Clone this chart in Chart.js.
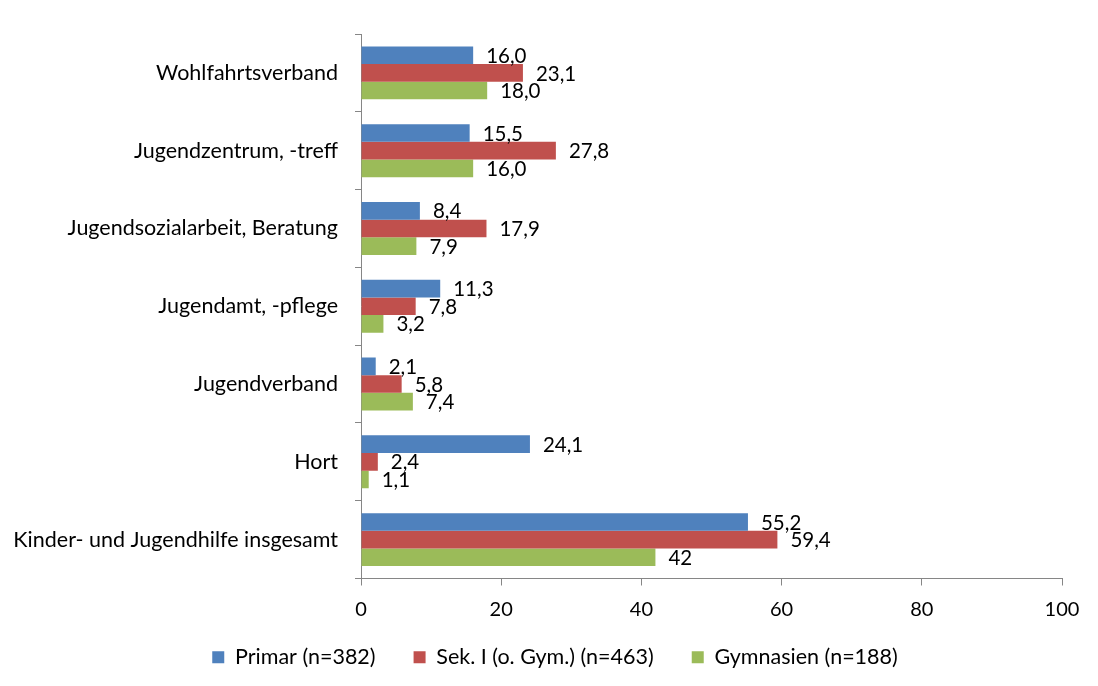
<!DOCTYPE html>
<html><head><meta charset="utf-8">
<script src="https://cdn.jsdelivr.net/npm/chart.js@4"></script>
<style>html,body{margin:0;padding:0;background:#fff}#wrap{width:1098px;height:686px}</style>
</head><body><div id="wrap"><canvas id="c" width="1098" height="686"></canvas></div>
<script>
const categories = ["Wohlfahrtsverband","Jugendzentrum, -treff","Jugendsozialarbeit, Beratung","Jugendamt, -pflege","Jugendverband","Hort","Kinder- und Jugendhilfe insgesamt"];
const seriesNames = ["Primar (n=382)","Sek. I (o. Gym.) (n=463)","Gymnasien (n=188)"];
const primar = [16.0,15.5,8.4,11.3,2.1,24.1,55.2];
const sek1 = [23.1,27.8,17.9,7.8,5.8,2.4,59.4];
const gymnasien = [18.0,16.0,7.9,3.2,7.4,1.1,42];
const primarLabels = ["16,0","15,5","8,4","11,3","2,1","24,1","55,2"];
const sek1Labels = ["23,1","27,8","17,9","7,8","5,8","2,4","59,4"];
const gymLabels = ["18,0","16,0","7,9","3,2","7,4","1,1","42"];
const xTicks = [0,20,40,60,80,100];

const FONT = "Lato, 'Open Sans', sans-serif";
const labelSets = [primarLabels, sek1Labels, gymLabels];
const LEGEND_SHIFT = 14;
const LEGEND_XSHIFT = 24;

const valueLabels = {
  id:'valueLabels',
  afterInit(chart){
    const lg = chart.legend;
    if (!lg) return;
    const origFit = lg.fit.bind(lg);
    lg.fit = function(){ origFit(); this.height -= LEGEND_SHIFT; };
    const origDraw = lg.draw.bind(lg);
    lg.draw = function(){
      const t = this.top, l = this.left, r = this.right;
      this.top -= LEGEND_SHIFT; this.left += LEGEND_XSHIFT; this.right += LEGEND_XSHIFT;
      origDraw();
      this.top = t; this.left = l; this.right = r;
    };
  },
  afterDatasetsDraw(chart){
    const ctx = chart.ctx;
    ctx.save();
    ctx.font = "20.5px " + FONT;
    ctx.fillStyle = "#000";
    ctx.textBaseline = "middle";
    ctx.textAlign = "left";
    chart.data.datasets.forEach((ds,i)=>{
      chart.getDatasetMeta(i).data.forEach((el,j)=>{
        ctx.fillText(labelSets[i][j], el.x + 13, el.y + 1);
      });
    });
    ctx.restore();
  }
};

new Chart(document.getElementById('c'), {
  type:'bar',
  data:{
    labels: categories,
    datasets:[
      {label:seriesNames[0], data:primar, backgroundColor:'#4F81BD'},
      {label:seriesNames[1], data:sek1, backgroundColor:'#C0504D'},
      {label:seriesNames[2], data:gymnasien, backgroundColor:'#9BBB59'}
    ]
  },
  options:{
    indexAxis:'y',
    responsive:false,
    animation:false,
    layout:{padding:{top:34,right:36,left:0,bottom:8}},
    datasets:{bar:{categoryPercentage:0.68,barPercentage:1}},
    scales:{
      x:{
        min:0,max:100,
        afterBuildTicks(s){ s.ticks = xTicks.map(v=>({value:v})); },
        grid:{drawOnChartArea:false,drawTicks:true,tickLength:7,color:'#868686'},
        border:{color:'#868686'},
        ticks:{font:{size:20,family:FONT},color:'#000',padding:12,maxRotation:0},
        afterFit(s){ s.height = 44; }
      },
      y:{
        grid:{drawOnChartArea:false,drawTicks:true,tickLength:6,color:'#868686',offset:true},
        border:{color:'#868686'},
        ticks:{font:{size:21.5,family:FONT},color:'#000',padding:17},
        afterFit(s){ s.width = 361; }
      }
    },
    plugins:{
      legend:{
        position:'bottom',
        labels:{boxWidth:12,boxHeight:12,padding:38,color:'#000',font:{size:21.5,family:FONT}}
      },
      tooltip:{enabled:false}
    }
  },
  plugins:[valueLabels]
});
</script></body></html>
